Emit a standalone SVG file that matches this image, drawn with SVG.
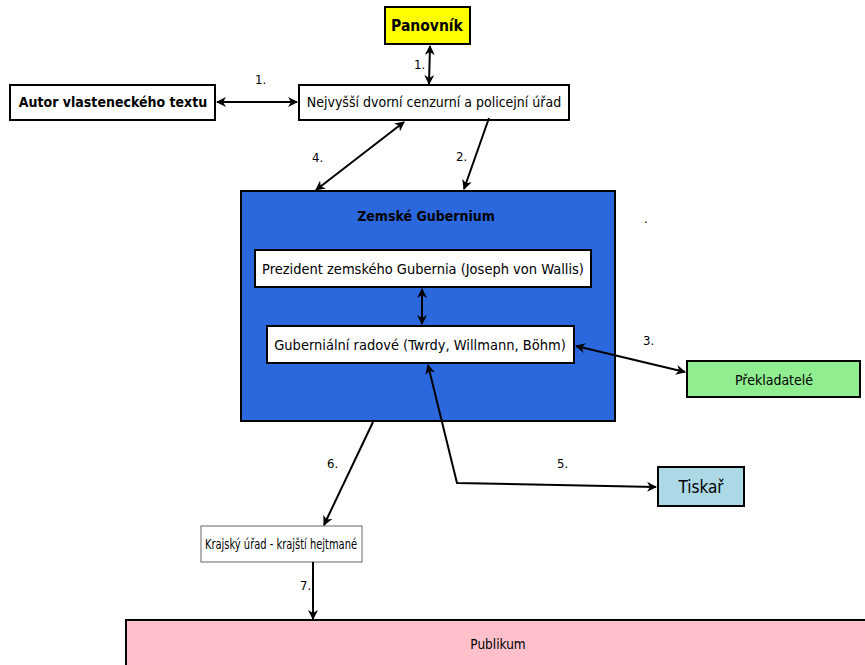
<svg xmlns="http://www.w3.org/2000/svg" width="865" height="665" viewBox="0 0 865 665">
<style>
text{font-family:"DejaVu Sans Condensed","DejaVu Sans","Liberation Sans",sans-serif;font-size:14px;fill:#000;text-anchor:middle;dominant-baseline:central}
.b{font-weight:bold}
.box{stroke:#000;stroke-width:2}
.c{stroke:#000;stroke-width:2;fill:none}
.lbl{text-anchor:start;font-size:13px}
</style>
<defs>
<marker id="ah" viewBox="0 0 10 10" refX="9" refY="5" markerWidth="5" markerHeight="5" orient="auto-start-reverse" markerUnits="strokeWidth">
<path d="M0,0 L10,5 L0,10 L3,5 z" fill="#000"/>
</marker>
</defs>
<rect x="0" y="0" width="865" height="665" fill="#fff"/>
<g id="publikum"><rect class="box" x="126" y="620" width="745" height="50" fill="#FFC0CB"/><text x="498" y="644" style="font-size:13.5px">Publikum</text></g>
<g id="gubernium"><rect class="box" x="241" y="191" width="374" height="230" fill="#2B68DD"/><text class="b" x="426" y="216">Zemské Gubernium</text></g>
<g id="panovnik"><rect class="box" x="385" y="7" width="85" height="37" fill="#FFFF00"/><text class="b" x="427" y="26" style="font-size:15.5px">Panovník</text></g>
<g id="autor"><rect class="box" x="10" y="85" width="205" height="35" fill="#fff"/><text class="b" x="113" y="102">Autor vlasteneckého textu</text></g>
<g id="urad"><rect class="box" x="299" y="85" width="270" height="35" fill="#fff"/><text x="434" y="102">Nejvyšší dvorní cenzurní a policejní úřad</text></g>
<g id="prezident"><rect class="box" x="255" y="250" width="336" height="37" fill="#fff"/><text x="423" y="269" style="font-size:14.5px">Prezident zemského Gubernia (Joseph von Wallis)</text></g>
<g id="radove"><rect class="box" x="267" y="326" width="307" height="37" fill="#fff"/><text x="420" y="345" style="font-size:14.5px">Guberniální radové (Twrdy, Willmann, Böhm)</text></g>
<g id="prekladatele"><rect class="box" x="687" y="361" width="173" height="36" fill="#90EE90"/><text x="774" y="380">Překladatelé</text></g>
<g id="tiskar"><rect class="box" x="658" y="467" width="86" height="39" fill="#ADD8E6"/><text x="701" y="487" style="font-size:17px">Tiskař</text></g>
<g id="krajsky"><rect x="201" y="526" width="161" height="36" fill="#fff" stroke="#666" stroke-width="1"/><text x="281" y="544" textLength="152" lengthAdjust="spacingAndGlyphs">Krajský úřad - krajští hejtmané</text></g>
<g id="connectors">
<line class="c" x1="217" y1="102" x2="297" y2="102" marker-start="url(#ah)" marker-end="url(#ah)"/>
<line class="c" x1="430" y1="46" x2="429" y2="84" marker-start="url(#ah)" marker-end="url(#ah)"/>
<line class="c" x1="404" y1="122" x2="316" y2="190" marker-start="url(#ah)" marker-end="url(#ah)"/>
<line class="c" x1="489" y1="118" x2="464" y2="189" marker-end="url(#ah)"/>
<line class="c" x1="422" y1="289" x2="422" y2="324" marker-start="url(#ah)" marker-end="url(#ah)"/>
<line class="c" x1="576" y1="346" x2="685" y2="372" marker-start="url(#ah)" marker-end="url(#ah)"/>
<polyline class="c" points="428,365 457,483 656,487" marker-start="url(#ah)" marker-end="url(#ah)"/>
<line class="c" x1="373" y1="422" x2="324" y2="525" marker-end="url(#ah)"/>
<line class="c" x1="313" y1="562" x2="313" y2="619" marker-end="url(#ah)"/>
</g>
<g id="labels">
<text class="lbl" x="255" y="79">1.</text>
<text class="lbl" x="414" y="64">1.</text>
<text class="lbl" x="312" y="157">4.</text>
<text class="lbl" x="456" y="156">2.</text>
<text class="lbl" x="643" y="340">3.</text>
<text class="lbl" x="557" y="463">5.</text>
<text class="lbl" x="327" y="463">6.</text>
<text class="lbl" x="300" y="585">7.</text>
<text class="lbl" x="644" y="218">.</text>
</g>
</svg>
